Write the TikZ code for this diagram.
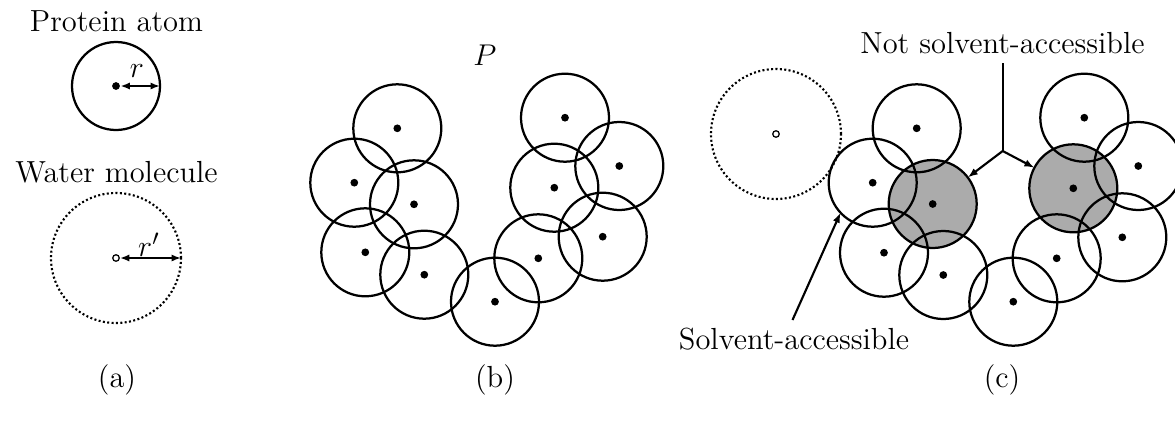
\documentclass[tikz,border=0pt]{standalone}
\usetikzlibrary{arrows.meta}
\definecolor{shadegray}{gray}{0.67}
\begin{document}
\begin{tikzpicture}[x=0.4pt,y=-0.4pt,
  every node/.style={font=\fontsize{12.2}{14}\selectfont},
  atom/.style={circle,draw,line width=0.9pt,minimum size=35.2pt,inner sep=0pt,outer sep=0pt},
  buried/.style={atom,fill=shadegray},
  water/.style={circle,draw,line width=0.85pt,dash pattern=on 0.8pt off 0.95pt,minimum size=52pt,inner sep=0pt,outer sep=0pt},
  ctr/.style={circle,fill,inner sep=0pt,minimum size=3.1pt},
  octr/.style={circle,draw,line width=0.5pt,fill=white,inner sep=0pt,minimum size=2.6pt},
  arr/.style={line width=0.85pt,-{Latex[length=4pt,width=3pt]}},
  darr/.style={line width=0.85pt,{Latex[length=3.8pt,width=2.9pt]}-{Latex[length=3.8pt,width=2.9pt]}},
  plain/.style={line width=0.85pt}]
\useasboundingbox (0,0) rectangle (1175,441);

% ---------- panel (a) ----------
\node[anchor=base] (tpa) at (116.5,31) {Protein atom};
\node[atom] (pa) at (116,86) {};
\node[ctr] (pad) at (116,86) {};
\draw[darr] (pad) -- (pa.east);
\node (rl) at (137,71) {$r$};

\node[anchor=base] (twa) at (116.5,182.5) {Water molecule};
\node[water] (wa) at (116,258) {};
\node[octr] (wad) at (116,258) {};
\draw[darr] (wad) -- (wa.east);
\node (rpl) at (149,245) {$r'$};

\node[anchor=base] (la) at (117,387.5) {(a)};

% ---------- panel (b) ----------
\node (pl) at (485,55) {$P$};
\foreach \n/\x/\y in {1/397.3/128.3, 2/354.3/182.7, 3/414/204.3, 4/365.3/252.3,
  5/424.3/274.7, 6/495/301.7, 7/538.3/258.3, 8/602.7/236.7, 9/554.3/187.7,
  10/619.3/166, 11/565/117.7}{
  \node[atom] (b\n) at (\x,\y) {};
  \node[ctr] (bd\n) at (\x,\y) {};
}
\node[anchor=base] (lb) at (495,387.5) {(b)};

% ---------- panel (c) ----------
\node[water] (wc) at (776,134) {};
\node[octr] (wcd) at (776,134) {};

\node[buried] (c3) at (932.7,204) {};
\node[buried] (c9) at (1073.3,188.3) {};
\foreach \n/\x/\y in {1/916.7/128.3, 2/872.7/182.7, 4/884/252.7,
  5/943.3/275, 6/1013.3/301.7, 7/1056.7/258.3, 8/1122.3/237.3,
  10/1138.3/166, 11/1084.3/117.7}{
  \node[atom] (c\n) at (\x,\y) {};
}
\foreach \n/\x/\y in {1/916.7/128.3, 2/872.7/182.7, 3/932.7/204, 4/884/252.7,
  5/943.3/275, 6/1013.3/301.7, 7/1056.7/258.3, 8/1122.3/237.3, 9/1073.3/188.3,
  10/1138.3/166, 11/1084.3/117.7}{
  \node[ctr] (cd\n) at (\x,\y) {};
}

\node[anchor=base] (nsa) at (1002.5,53) {Not solvent-accessible};
\coordinate (nstop) at (1002.7,63);
\coordinate (jn) at (1002.7,151);
\draw[plain] (nstop) -- (jn);
\draw[arr] (jn) -- (c3);
\draw[arr] (jn) -- (c9);

\node[anchor=base] (sa) at (794,349) {Solvent-accessible};
\coordinate (sastart) at (792.5,320);
\draw[arr] (sastart) -- (c2.223);

\node[anchor=base] (lc) at (1002,387.5) {(c)};
\end{tikzpicture}
\end{document}
